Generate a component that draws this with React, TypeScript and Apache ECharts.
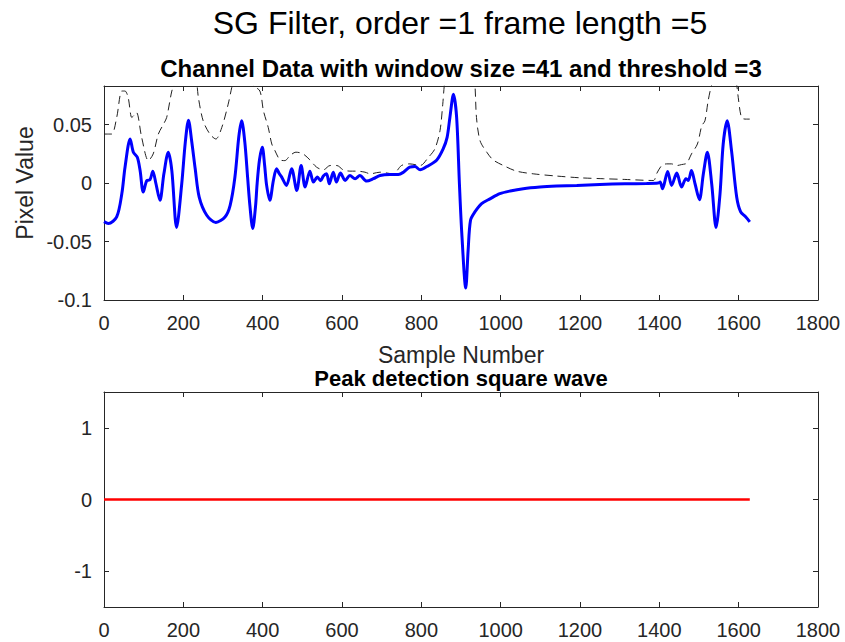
import React, { useEffect, useRef } from "react";
import * as echarts from "echarts";

// ---- data ----
const xTicks = [0, 200, 400, 600, 800, 1000, 1200, 1400, 1600, 1800];
const topYTicks = [-0.1, -0.05, 0, 0.05];
const bottomYTicks = [-1, 0, 1];

const blueX = [
  0, 11, 32, 45, 53, 66, 74, 84, 91, 99, 108, 116, 123, 131, 141, 151, 162, 171, 183, 196,
  205, 213, 221, 230, 240, 259, 282, 305, 318, 330, 340, 347, 355, 362, 368, 375, 382, 386,
  392, 399, 405, 410, 418, 427, 435, 442, 448, 460, 473, 486, 497, 507, 519, 528, 538, 546,
  553, 561, 568, 578, 586, 596, 608, 620, 633, 645, 662, 679, 696, 721, 742, 755, 771, 784,
  797, 814, 839, 855, 865, 872, 881, 889, 896, 902, 912, 918, 924, 935, 952, 973, 998, 1024,
  1057, 1099, 1141, 1192, 1250, 1313, 1368, 1397, 1402, 1408, 1421, 1431, 1444, 1456, 1467,
  1473, 1481, 1490, 1501, 1511, 1521, 1532, 1543, 1553, 1561, 1571, 1582, 1595, 1605, 1618,
  1628,
];
const blueY = [
  -0.033, -0.0345, -0.029, -0.009, 0.0136, 0.0377, 0.0264, 0.022, 0.0107, -0.0077, 0.0022,
  0.0028, 0.0102, -0.0006, -0.0148, 0.0079, 0.0264, 0.0107, -0.038, -0.0006, 0.035, 0.0538,
  0.036, 0.012, -0.012, -0.0275, -0.0337, -0.029, -0.019, 0.005, 0.04, 0.0532, 0.035, 0.005,
  -0.02, -0.0389, -0.02, -0.0006, 0.02, 0.0306, 0.015, -0.002, -0.0148, 0.0022, 0.0122, 0.008,
  0.0051, -0.002, 0.0122, -0.0063, 0.015, -0.0034, 0.0102, 0.0008, 0.0051, 0.002, 0.006,
  0.0079, -0.0006, 0.0093, 0.0008, 0.0085, 0.0022, 0.0065, 0.0037, 0.0065, 0.0017, 0.0037,
  0.0065, 0.0073, 0.0073, 0.0093, 0.0136, 0.0141, 0.0113, 0.0141, 0.0198, 0.0292, 0.0391,
  0.0561, 0.0759, 0.0561, -0.0006, -0.043, -0.0898, -0.0573, -0.0318, -0.0247, -0.0176,
  -0.0135, -0.0091, -0.0068, -0.0048, -0.0034, -0.0026, -0.002, -0.0012, -0.0006, -0.0004, 0,
  0.0008, -0.0048, 0.0099, -0.002, 0.0085, -0.0034, 0.0037, 0.0022, 0.0107, -0.0006, -0.0142,
  0.0079, 0.0264, -0.0006, -0.038, -0.009, 0.0334, 0.0532, 0.0277, -0.0119, -0.0247, -0.029,
  -0.0332,
];

const threshX = [
  0, 19, 32, 45, 53, 61, 70, 76, 82, 95, 112, 124, 137, 150, 158, 171, 179, 195, 210, 225,
  234, 238, 250, 267, 282, 297, 313, 322, 335, 350, 365, 376, 393, 402, 414, 423, 431, 444,
  456, 469, 484, 502, 519, 536, 553, 570, 587, 603, 620, 637, 658, 671, 696, 729, 750, 771,
  797, 818, 834, 847, 854, 858, 870, 890, 910, 925, 935, 939, 948, 965, 981, 1007, 1040,
  1082, 1141, 1200, 1259, 1313, 1385, 1393, 1406, 1418, 1431, 1444, 1456, 1469, 1481, 1496,
  1507, 1515, 1523, 1532, 1545, 1565, 1585, 1595, 1599, 1607, 1616, 1628,
];
const threshY = [
  0.0419, 0.0419, 0.0561, 0.0787, 0.0787, 0.073, 0.0561, 0.058, 0.0603, 0.039, 0.0192, 0.0249,
  0.0419, 0.0504, 0.0561, 0.0787, 0.086, 0.11, 0.12, 0.1, 0.085, 0.073, 0.0532, 0.0419,
  0.0377, 0.0476, 0.0674, 0.0816, 0.1, 0.115, 0.1, 0.084, 0.0787, 0.0617, 0.0476, 0.0334,
  0.0277, 0.0198, 0.0192, 0.0235, 0.0264, 0.0249, 0.0198, 0.0136, 0.0113, 0.015, 0.015,
  0.0113, 0.0102, 0.0102, 0.0093, 0.0079, 0.0093, 0.0079, 0.015, 0.0164, 0.015, 0.0221,
  0.0292, 0.0447, 0.0674, 0.084, 0.12, 0.16, 0.15, 0.11, 0.084, 0.0561, 0.0362, 0.0264,
  0.0198, 0.015, 0.0102, 0.0079, 0.006, 0.0045, 0.0037, 0.0031, 0.0022, 0.0079, 0.015,
  0.0164, 0.0164, 0.015, 0.0158, 0.017, 0.0249, 0.0334, 0.049, 0.0532, 0.0702, 0.084, 0.095,
  0.11, 0.1, 0.084, 0.073, 0.0561, 0.0547, 0.0547,
];

const peakX = [0, 1628];
const peakY = [0, 0];

const mainTitle = "SG Filter, order =1 frame length =5";
const topTitle = "Channel Data with window size =41 and threshold =3";
const bottomTitle = "Peak detection square wave";
const xLabel = "Sample Number";
const yLabel = "Pixel Value";

// ---- styling ----
const FONT = "'Liberation Sans', Arial, Helvetica, sans-serif";
const AX = "#262626";

function xAxisCfg(gridIndex: number, position: "top" | "bottom", labels: boolean) {
  return {
    type: "value",
    gridIndex,
    position,
    min: 0,
    max: 1800,
    interval: 200,
    axisLine: { show: true, onZero: false, lineStyle: { color: AX, width: 1 } },
    axisTick: { show: true, inside: true, length: 5, lineStyle: { color: AX, width: 1 } },
    axisLabel: {
      show: labels,
      color: AX,
      fontSize: 20,
      fontFamily: FONT,
      margin: 13,
      customValues: xTicks,
      formatter: (v: number) => String(v),
    },
    splitLine: { show: false },
  };
}

function yAxisCfg(
  gridIndex: number,
  position: "left" | "right",
  labels: boolean,
  min: number,
  max: number,
  ticks: number[]
) {
  return {
    type: "value",
    gridIndex,
    position,
    min,
    max,
    axisLine: { show: true, onZero: false, lineStyle: { color: AX, width: 1 } },
    axisTick: {
      show: true,
      inside: true,
      length: 5,
      customValues: ticks,
      lineStyle: { color: AX, width: 1 },
    },
    axisLabel: {
      show: labels,
      color: AX,
      fontSize: 20,
      fontFamily: FONT,
      margin: 12,
      customValues: ticks,
      formatter: (v: number) => String(Math.round(v * 1000) / 1000),
    },
    splitLine: { show: false },
  };
}

export default function App() {
  const ref = useRef<HTMLDivElement>(null);

  useEffect(() => {
    if (!ref.current) return;
    const chart = echarts.init(ref.current, null, { renderer: "svg" });
    const option = {
      animation: false,
      backgroundColor: "#ffffff",
      grid: [
        { left: 104, top: 86, width: 714, height: 214 },
        { left: 104, top: 392, width: 714, height: 215 },
      ],
      xAxis: [
        xAxisCfg(0, "bottom", true),
        xAxisCfg(0, "top", false),
        xAxisCfg(1, "bottom", true),
        xAxisCfg(1, "top", false),
      ],
      yAxis: [
        yAxisCfg(0, "left", true, -0.1, 0.083, topYTicks),
        yAxisCfg(0, "right", false, -0.1, 0.083, topYTicks),
        yAxisCfg(1, "left", true, -1.5, 1.5, bottomYTicks),
        yAxisCfg(1, "right", false, -1.5, 1.5, bottomYTicks),
      ],
      series: [
        {
          type: "line",
          xAxisIndex: 0,
          yAxisIndex: 0,
          data: threshX.map((x, i) => [x, threshY[i]]),
          showSymbol: false,
          symbol: "none",
          smooth: 0.3,
          clip: true,
          lineStyle: { color: "#222222", width: 1, type: [8, 5] },
        },
        {
          type: "line",
          xAxisIndex: 0,
          yAxisIndex: 0,
          data: blueX.map((x, i) => [x, blueY[i]]),
          showSymbol: false,
          symbol: "none",
          smooth: 0.3,
          clip: true,
          lineStyle: { color: "#0000ff", width: 3 },
        },
        {
          type: "line",
          xAxisIndex: 2,
          yAxisIndex: 2,
          data: peakX.map((x, i) => [x, peakY[i]]),
          showSymbol: false,
          symbol: "none",
          lineStyle: { color: "#ff0000", width: 2.5 },
        },
      ],
      graphic: [
        {
          type: "text",
          x: 460,
          y: 23,
          style: {
            text: mainTitle,
            font: `normal 32px ${FONT}`,
            fill: "#000000",
            textAlign: "center",
            textVerticalAlign: "middle",
          },
        },
        {
          type: "text",
          x: 461,
          y: 68,
          style: {
            text: topTitle,
            font: `bold 24px ${FONT}`,
            fill: "#000000",
            textAlign: "center",
            textVerticalAlign: "middle",
          },
        },
        {
          type: "text",
          x: 461,
          y: 355,
          style: {
            text: xLabel,
            font: `normal 23px ${FONT}`,
            fill: AX,
            textAlign: "center",
            textVerticalAlign: "middle",
          },
        },
        {
          type: "text",
          x: 461,
          y: 378,
          style: {
            text: bottomTitle,
            font: `bold 22px ${FONT}`,
            fill: "#000000",
            textAlign: "center",
            textVerticalAlign: "middle",
          },
        },
        {
          type: "text",
          x: 25,
          y: 183,
          rotation: Math.PI / 2,
          style: {
            text: yLabel,
            font: `normal 23px ${FONT}`,
            fill: AX,
            textAlign: "center",
            textVerticalAlign: "middle",
          },
        },
      ],
    };
    chart.setOption(option as any);
    return () => chart.dispose();
  }, []);

  return (
    <div
      ref={ref}
      style={{ position: "absolute", left: 0, top: 0, width: 845, height: 642, background: "#fff" }}
    />
  );
}
